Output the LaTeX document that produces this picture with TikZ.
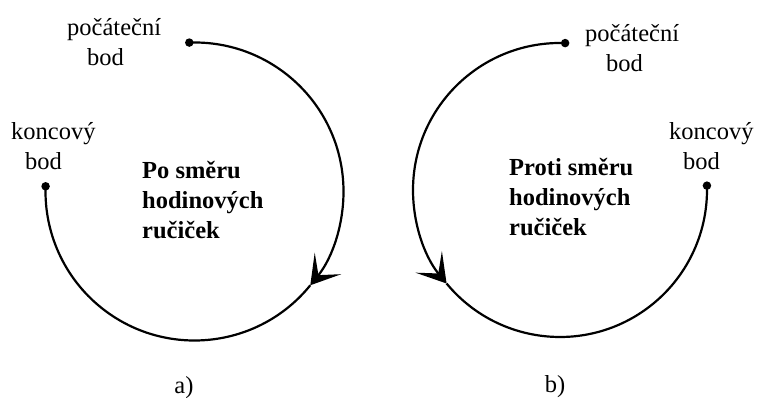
\documentclass[tikz,border=0pt]{standalone}
\usepackage{fontspec}
\setmainfont{Liberation Serif}
\usetikzlibrary{arrows.meta, positioning}

\begin{document}
\begin{tikzpicture}[
    x=1pt, y=1pt,
    curve/.style={line width=2.2pt},
    tipped/.style={-{Stealth[length=28pt, width=34pt, inset=15pt]}},
    dot/.style={circle, fill, inner sep=0pt, minimum size=8.5pt},
    lbl/.style={align=left, inner sep=0pt, anchor=west,
                font=\fontsize{24.5}{30}\selectfont},
    sense/.style={align=left, inner sep=0pt, anchor=west,
                  font=\fontsize{24.5}{30}\selectfont\bfseries}
  ]
  \useasboundingbox (0,0) rectangle (757,398);

  % a) clockwise
  \begin{scope}[shift={(194.5,206.5)}]
    \node[dot] (startA) at (92:149) {};
    \node[dot] (endA) at (-182:149) {};
    \draw[curve, tipped] (startA.center)
      arc[start angle=92, end angle=-39, radius=149] coordinate (midA);
    \draw[curve] (midA) arc[start angle=-39, end angle=-182, radius=149];
  \end{scope}
  \node[lbl] (startAtxt) at (67,356) {počáteční\\\hspace*{20pt}bod};
  \node[lbl] (endAtxt) at (11,252) {koncový\\\hspace*{14pt}bod};
  \node[sense] (senseA) at (142,198)
    {Po směru\\hodinových\\ručiček};
  \node[lbl, anchor=center] (capA) at (184,10) {a)};

  % b) counterclockwise
  \begin{scope}[shift={(560,208)}]
    \node[dot] (startB) at (88:147) {};
    \node[dot] (endB) at (361.7:147) {};
    \draw[curve, tipped] (startB.center)
      arc[start angle=88, end angle=219.5, radius=147] coordinate (midB);
    \draw[curve] (midB) arc[start angle=219.5, end angle=361.7, radius=147];
  \end{scope}
  \node[lbl] (startBtxt) at (585,350) {počáteční\\\hspace*{21pt}bod};
  \node[lbl] (endBtxt) at (669,252) {koncový\\\hspace*{14pt}bod};
  \node[sense] (senseB) at (509,201)
    {Proti směru\\hodinových\\ručiček};
  \node[lbl, anchor=center] (capB) at (555,11) {b)};
\end{tikzpicture}
\end{document}
